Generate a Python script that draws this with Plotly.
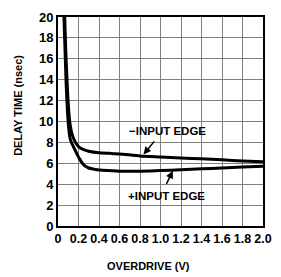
import plotly.graph_objects as go

# -INPUT EDGE (upper curve)
neg_x = [0.062, 0.075, 0.09, 0.105, 0.12, 0.14, 0.165, 0.2, 0.25, 0.3, 0.4, 0.5, 0.6, 0.8, 1.0, 1.2, 1.4, 1.6, 1.8, 2.0]
neg_y = [21.0, 17.0, 13.5, 11.0, 9.6, 8.7, 8.1, 7.6, 7.3, 7.15, 7.0, 6.95, 6.9, 6.7, 6.6, 6.5, 6.43, 6.33, 6.21, 6.15]
# +INPUT EDGE (lower curve)
pos_x = [0.055, 0.068, 0.08, 0.092, 0.105, 0.12, 0.14, 0.16, 0.2, 0.25, 0.3, 0.35, 0.4, 0.6, 0.8, 1.0, 1.2, 1.4, 1.6, 1.8, 2.0]
pos_y = [21.0, 17.0, 13.5, 11.0, 9.3, 8.3, 7.8, 7.4, 6.6, 5.85, 5.55, 5.44, 5.35, 5.25, 5.25, 5.3, 5.38, 5.47, 5.55, 5.64, 5.72]

x_ticks = [0, 0.2, 0.4, 0.6, 0.8, 1.0, 1.2, 1.4, 1.6, 1.8, 2.0]
x_tick_labels = ["0", "0.2", "0.4", "0.6", "0.8", "1.0", "1.2", "1.4", "1.6", "1.8", "2.0"]
y_ticks = [0, 2, 4, 6, 8, 10, 12, 14, 16, 18, 20]
y_tick_labels = ["<b>%d</b>" % v for v in y_ticks]

FONT = "Liberation Sans"

fig = go.Figure()
fig.add_trace(go.Scatter(x=neg_x, y=neg_y, mode="lines", line=dict(color="black", width=3, shape="spline", smoothing=0.6), showlegend=False))
fig.add_trace(go.Scatter(x=pos_x, y=pos_y, mode="lines", line=dict(color="black", width=3, shape="spline", smoothing=0.6), showlegend=False))

fig.update_xaxes(range=[0, 2.0], tickvals=x_ticks, ticktext=["<b>%s</b>" % t for t in x_tick_labels], showgrid=True,
                 gridcolor="#808080", gridwidth=1, tickangle=0,
                 showline=True, linecolor="black", linewidth=2, mirror=True, ticks="", zeroline=False,
                 tickfont=dict(family=FONT, size=12.5, color="black"))
fig.update_yaxes(range=[0, 20], tickvals=y_ticks, ticktext=y_tick_labels, showgrid=True, gridcolor="#808080", gridwidth=1,
                 showline=True, linecolor="black", linewidth=2, mirror=True, ticks="", zeroline=False,
                 tickfont=dict(family=FONT, size=13, color="black"))

annotations = [
    dict(text="<b>OVERDRIVE (V)</b>", xref="paper", yref="paper", x=0.44, y=-0.19, showarrow=False, yanchor="middle",
         font=dict(family=FONT, size=11, color="black")),
    dict(text="<b>DELAY TIME (nsec)</b>", xref="paper", yref="paper", x=-0.195, y=0.575, textangle=-90, showarrow=False,
         xanchor="center", font=dict(family=FONT, size=11, color="black")),
    dict(text="<b>−INPUT EDGE</b>", x=1.067, y=9.11, xref="x", yref="y", showarrow=False, font=dict(family=FONT, size=11.5, color="black")),
    dict(text="<b>+INPUT EDGE</b>", x=1.06, y=2.85, xref="x", yref="y", showarrow=False, font=dict(family=FONT, size=11.5, color="black")),
    dict(text="", x=0.834, y=6.84, ax=0.951, ay=8.24, xref="x", yref="y", axref="x", ayref="y", showarrow=True,
         arrowhead=2, arrowsize=1, arrowwidth=1.5, arrowcolor="black", standoff=0),
    dict(text="", x=1.12, y=5.28, ax=1.051, ay=3.88, xref="x", yref="y", axref="x", ayref="y", showarrow=True,
         arrowhead=2, arrowsize=1, arrowwidth=1.5, arrowcolor="black", standoff=0),
]

fig.update_layout(width=281, height=277, margin=dict(l=57.5, r=9.5, t=12, b=50.5),
                  plot_bgcolor="white", paper_bgcolor="white", annotations=annotations)

fig.write_html("out.html", config={"displayModeBar": False},
               post_script="document.body.style.margin='0';document.body.style.overflow='hidden';")
